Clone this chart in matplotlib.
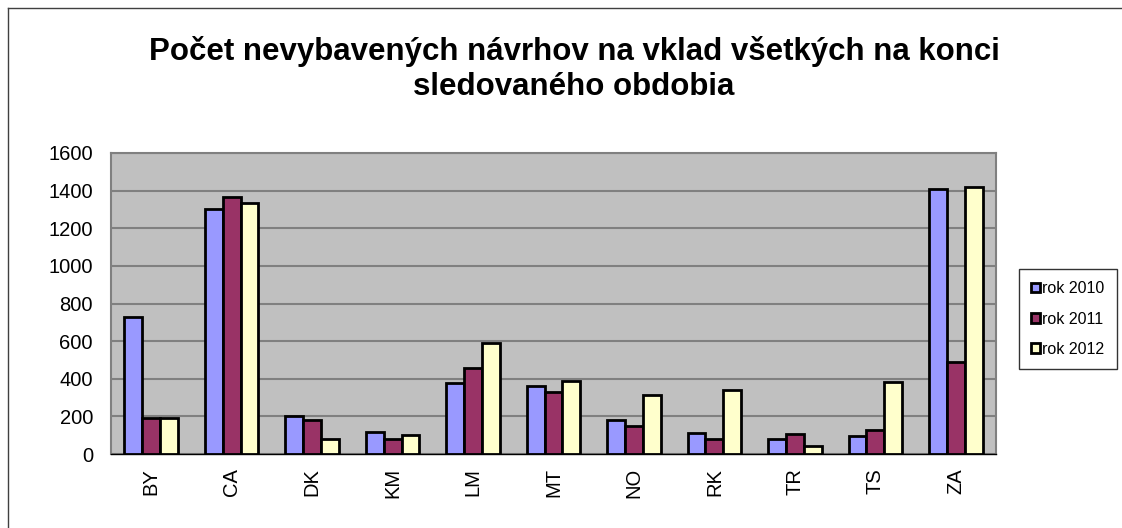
import matplotlib.pyplot as plt
from matplotlib.lines import Line2D
import numpy as np

plt.rcParams['font.family'] = ['Liberation Sans', 'DejaVu Sans']

categories = ['BY', 'CA', 'DK', 'KM', 'LM', 'MT', 'NO', 'RK', 'TR', 'TS', 'ZA']
rok_2010 = [729, 1301, 200, 117, 379, 361, 181, 110, 78, 97, 1407]
rok_2011 = [189, 1368, 179, 81, 455, 331, 147, 80, 104, 127, 488]
rok_2012 = [189, 1336, 80, 101, 591, 388, 312, 338, 42, 382, 1421]
series_labels = ['rok 2010', 'rok 2011', 'rok 2012']
colors = ['#9999FF', '#993366', '#FFFFCC']

fig = plt.figure(figsize=(11.22, 5.28), dpi=100)
ax = fig.add_axes([111 / 1122, 74 / 528, 885 / 1122, 301 / 528])

x = np.arange(len(categories))
width = 0.222
for i, (vals, lab, col) in enumerate(zip([rok_2010, rok_2011, rok_2012], series_labels, colors)):
    ax.bar(x + (i - 1) * width, vals, width, color=col, edgecolor='black',
           linewidth=2, label=lab, zorder=3)

ax.set_facecolor('#C0C0C0')
ax.set_xlim(-0.5, len(categories) - 0.5)
ax.set_ylim(0, 1600)
ax.set_yticks(range(0, 1601, 200))
ax.yaxis.grid(True, color='#808080', linewidth=1.5, zorder=0)
ax.set_axisbelow(True)
for s in ax.spines.values():
    s.set_color('#808080')
    s.set_linewidth(1.5)
ax.spines['bottom'].set_color('black')
ax.spines['bottom'].set_linewidth(1)
ax.set_xticks(x)
ax.set_xticklabels(categories, rotation=90)
ax.tick_params(axis='both', length=0, labelsize=14.5)
ax.tick_params(axis='y', pad=13)
ax.tick_params(axis='x', pad=10)

fig.text(574 / 1122, 1 - 69 / 528,
         'Počet nevybavených návrhov na vklad všetkých na konci\nsledovaného obdobia',
         ha='center', va='center', fontsize=22.5, fontweight='bold', linespacing=1.2)

leg = fig.legend(loc='center', bbox_to_anchor=(1068 / 1122, 1 - 319 / 528),
                 fontsize=11.5, frameon=True, fancybox=False, handlelength=0.55,
                 handleheight=0.55, handletextpad=0.15, labelspacing=0.95,
                 borderpad=0.8, borderaxespad=0)
leg.get_frame().set_edgecolor('black')
leg.get_frame().set_linewidth(1)

# chart frame
fig.add_artist(Line2D([8 / 1122, 8 / 1122], [0, 1 - 8 / 528], transform=fig.transFigure,
                      color='#404040', linewidth=1))
fig.add_artist(Line2D([8 / 1122, 1], [1 - 8 / 528, 1 - 8 / 528], transform=fig.transFigure,
                      color='#404040', linewidth=1))

fig.savefig('out.png', dpi=100)
